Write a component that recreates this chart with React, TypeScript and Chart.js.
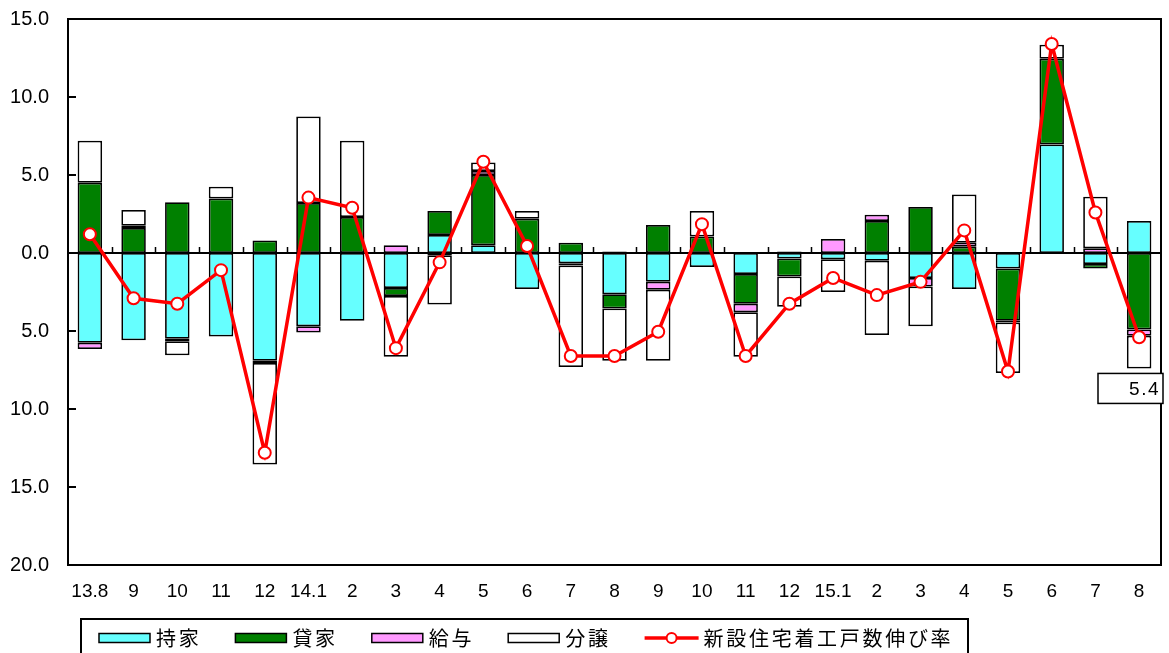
import React, { useEffect, useRef } from "react";
import { Chart, registerables } from "chart.js";

Chart.register(...registerables);

const categories = ["13.8", "9", "10", "11", "12", "14.1", "2", "3", "4", "5", "6", "7", "8", "9", "10", "11", "12", "15.1", "2", "3", "4", "5", "6", "7", "8"];
// 持家
const mochiie = [-5.75, -5.6, -5.5, -5.35, -6.9, -4.7, -4.35, -2.25, 1.15, 0.5, -2.3, -0.65, -2.65, -1.85, -0.9, -1.35, -0.35, -0.4, -0.5, -1.6, -2.3, -1.0, 6.95, -0.7, 2.05];
// 貸家
const kashiya = [4.5, 1.6, 3.25, 3.5, 0.8, 3.2, 2.3, -0.5, 1.55, 4.5, 2.2, 0.65, -0.9, 1.8, 1.05, -1.9, -1.15, 0, 2.05, 2.95, 0.4, -3.35, 5.5, -0.3, -4.9];
// 給与
const kyuyo = [-0.4, 0.15, -0.15, 0, -0.15, -0.4, 0, 0.5, -0.15, 0.25, 0, -0.15, 0.1, -0.5, 0, -0.55, 0.1, 0.9, 0.4, -0.55, 0.25, -0.1, 0, 0.3, -0.4];
// 分譲
const bunjo = [2.7, 1.0, -0.9, 0.75, -6.5, 5.55, 4.9, -3.9, -3.15, 0.55, 0.5, -6.5, -3.35, -4.55, 1.65, -2.85, -1.95, -2.1, -4.75, -2.55, 3.1, -3.25, 0.9, 3.3, -2.1];
// 新設住宅着工戸数伸び率
const rate = [1.2, -2.9, -3.25, -1.1, -12.8, 3.55, 2.9, -6.1, -0.6, 5.85, 0.45, -6.6, -6.6, -5.05, 1.85, -6.6, -3.25, -1.6, -2.7, -1.85, 1.45, -7.6, 13.4, 2.6, -5.4];

const yTicks = [15, 10, 5, 0, -5, -10, -15, -20];
const seriesLabels = ["持家", "貸家", "給与", "分譲", "新設住宅着工戸数伸び率"];
const barColors = ["#66FFFF", "#008000", "#FF99FF", "#FFFFFF"];
const lineColor = "#FF0000";

const LATIN = "'Liberation Sans', Arial, sans-serif";
const CJK = "'Noto Sans CJK JP', 'Noto Sans', sans-serif";

const decorPlugin = {
  id: "decor",
  beforeDatasetsDraw(chart: any) {
    const { ctx, chartArea: a, scales } = chart;
    const x = scales.x;
    const y = scales.y;
    const y0 = y.getPixelForValue(0);
    ctx.save();
    ctx.strokeStyle = "#000";
    ctx.lineWidth = 2;
    ctx.beginPath();
    ctx.moveTo(a.left, y0);
    ctx.lineTo(a.right, y0);
    ctx.stroke();
    ctx.lineWidth = 1.5;
    ctx.beginPath();
    for (let i = 1; i < categories.length; i++) {
      const px = Math.round((x.getPixelForValue(i - 1) + x.getPixelForValue(i)) / 2) + 0.5;
      ctx.moveTo(px, y0);
      ctx.lineTo(px, y0 - 6);
    }
    ctx.stroke();
    ctx.restore();
  },
  afterDraw(chart: any) {
    const { ctx, chartArea: a, scales } = chart;
    const y = scales.y;
    ctx.save();
    // frame
    ctx.strokeStyle = "#000";
    ctx.lineWidth = 2;
    ctx.strokeRect(a.left, a.top, a.right - a.left, a.bottom - a.top);
    // inner y ticks
    ctx.beginPath();
    for (const v of yTicks) {
      const py = y.getPixelForValue(v);
      ctx.moveTo(a.left, py);
      ctx.lineTo(a.left + 8, py);
    }
    ctx.stroke();

    // annotation box for last value
    const n = categories.length;
    const negSum = [mochiie[n - 1], kashiya[n - 1], kyuyo[n - 1], bunjo[n - 1]]
      .filter((v) => v < 0)
      .reduce((s, v) => s + v, 0);
    const boxTop = y.getPixelForValue(negSum) + 5;
    const boxRight = a.right + 2;
    const boxLeft = boxRight - 65;
    ctx.fillStyle = "#fff";
    ctx.fillRect(boxLeft, boxTop, boxRight - boxLeft, 30);
    ctx.lineWidth = 1.5;
    ctx.strokeRect(boxLeft, boxTop, boxRight - boxLeft, 30);
    ctx.fillStyle = "#000";
    ctx.font = `19px ${LATIN}`;
    (ctx as any).letterSpacing = "1.5px";
    ctx.textAlign = "right";
    ctx.textBaseline = "middle";
    ctx.fillText(Math.abs(rate[n - 1]).toFixed(1), boxRight - 3, boxTop + 16);

    // legend
    (ctx as any).letterSpacing = "2.7px";
    ctx.lineWidth = 2;
    ctx.strokeStyle = "#000";
    ctx.strokeRect(81, 619, 887, 60);
    ctx.font = `20px ${CJK}`;
    ctx.textAlign = "left";
    ctx.textBaseline = "middle";
    const cy = 638;
    let lx = 99;
    for (let i = 0; i < seriesLabels.length; i++) {
      if (i < 4) {
        ctx.fillStyle = barColors[i];
        ctx.fillRect(lx, cy - 4.5, 51, 9);
        ctx.lineWidth = 1.5;
        ctx.strokeStyle = "#000";
        ctx.strokeRect(lx, cy - 4.5, 51, 9);
      } else {
        ctx.strokeStyle = lineColor;
        ctx.lineWidth = 3.5;
        ctx.beginPath();
        ctx.moveTo(lx, cy);
        ctx.lineTo(lx + 54, cy);
        ctx.stroke();
        ctx.beginPath();
        ctx.arc(lx + 27, cy, 5, 0, Math.PI * 2);
        ctx.fillStyle = "#fff";
        ctx.fill();
        ctx.lineWidth = 2;
        ctx.stroke();
      }
      const tx = lx + (i < 4 ? 57 : 59);
      ctx.fillStyle = "#000";
      ctx.fillText(seriesLabels[i], tx, cy);
      const w = ctx.measureText(seriesLabels[i]).width;
      lx = tx + w + 34;
    }
    ctx.restore();
  },
};

export default function App() {
  const ref = useRef<HTMLCanvasElement | null>(null);

  useEffect(() => {
    if (!ref.current) return;
    const barSeries = [mochiie, kashiya, kyuyo, bunjo];
    const datasets: any[] = barSeries.map((data, i) => ({
      type: "bar",
      label: seriesLabels[i],
      data,
      backgroundColor: barColors[i],
      borderColor: "#000",
      borderWidth: 1.75,
      borderSkipped: false,
      categoryPercentage: 1,
      barPercentage: 0.56,
      stack: "bars",
      order: 1,
    }));
    datasets.push({
      type: "line",
      label: seriesLabels[4],
      data: rate,
      borderColor: lineColor,
      borderWidth: 3.5,
      pointRadius: 6,
      pointBackgroundColor: "#FFFFFF",
      pointBorderColor: lineColor,
      pointBorderWidth: 2,
      tension: 0,
      stack: "line",
      order: 0,
      clip: false,
    });

    const chart = new Chart(ref.current, {
      type: "bar",
      data: { labels: categories, datasets },
      options: {
        animation: false,
        responsive: false,
        devicePixelRatio: 1,
        layout: { padding: { top: 19, right: 4, left: 0, bottom: 0 } },
        plugins: { legend: { display: false }, tooltip: { enabled: false } },
        scales: {
          x: {
            stacked: true,
            grid: { display: false, drawTicks: false },
            border: { display: false },
            ticks: {
              color: "#000",
              font: { family: LATIN, size: 19 },
              padding: 15,
              maxRotation: 0,
              autoSkip: false,
            },
            afterFit: (s: any) => {
              s.height = 88;
              s.paddingLeft = 0;
              s.paddingRight = 0;
            },
          },
          y: {
            stacked: true,
            min: -20,
            max: 15,
            grid: { display: false, drawTicks: false },
            border: { display: false },
            ticks: {
              stepSize: 5,
              color: "#000",
              font: { family: LATIN, size: 20 },
              padding: 19,
              callback: (v: any) => Math.abs(Number(v)).toFixed(1),
            },
            afterFit: (s: any) => {
              s.width = 68;
              s.paddingTop = 0;
              s.paddingBottom = 0;
            },
          },
        },
      } as any,
      plugins: [decorPlugin],
    });
    return () => chart.destroy();
  }, []);

  return (
    <div style={{ position: "fixed", left: 0, top: 0, width: 1169, height: 653, background: "#fff" }}>
      <canvas ref={ref} width={1169} height={653} />
    </div>
  );
}
